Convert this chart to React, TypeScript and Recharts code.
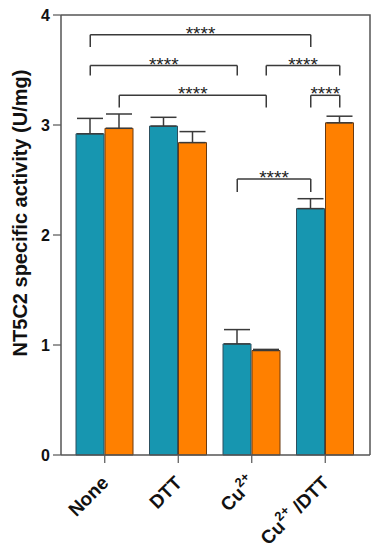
import React from 'react';
import {
  BarChart,
  Bar,
  XAxis,
  YAxis,
  ErrorBar,
  ReferenceLine,
} from 'recharts';

const categories = ['None', 'DTT', 'Cu2+', 'Cu2+/DTT'];
const blueValues = [2.92, 2.99, 1.01, 2.24];
const blueErrors = [0.14, 0.08, 0.13, 0.09];
const orangeValues = [2.97, 2.84, 0.95, 3.02];
const orangeErrors = [0.13, 0.1, 0.01, 0.06];
const yTicks = [0, 1, 2, 3, 4];

// significance brackets: bar index 0 = blue, 1 = orange
const brackets = [
  { from: 'None', fromBar: 0, to: 'Cu2+/DTT', toBar: 0, top: 3.82, drop: 3.71, label: '****' },
  { from: 'None', fromBar: 0, to: 'Cu2+', toBar: 0, top: 3.54, drop: 3.45, label: '****' },
  { from: 'None', fromBar: 1, to: 'Cu2+', toBar: 1, top: 3.27, drop: 3.16, label: '****' },
  { from: 'Cu2+', fromBar: 1, to: 'Cu2+/DTT', toBar: 1, top: 3.54, drop: 3.45, label: '****' },
  { from: 'Cu2+/DTT', fromBar: 0, to: 'Cu2+/DTT', toBar: 1, top: 3.27, drop: 3.16, label: '****' },
  { from: 'Cu2+', fromBar: 0, to: 'Cu2+/DTT', toBar: 0, top: 2.51, drop: 2.39, label: '****' },
];

const data = categories.map((name, i) => ({
  name,
  blue: blueValues[i],
  blueErr: [0, blueErrors[i]],
  orange: orangeValues[i],
  orangeErr: [0, orangeErrors[i]],
}));

const FONT = 'Arial, "Liberation Sans", sans-serif';
const CHART_W = 378;
const CHART_H = 550;
const MARGIN = { top: 15, right: 8, left: 0, bottom: 0 };
const BAR_SIZE = 28;
const BAR_GAP = 1;
const PAD = { left: 7, right: 8 };
const barShift = [-(BAR_SIZE + BAR_GAP) / 2, (BAR_SIZE + BAR_GAP) / 2];
const LINE = '#3a3a3a';
const AXIS = '#555';

const XTick = (props: any) => {
  const { x, y, payload } = props;
  const v = payload.value as string;
  let content: React.ReactNode = v;
  if (v === 'Cu2+') {
    content = (
      <>
        <tspan>Cu</tspan>
        <tspan dy={-9} fontSize={13}>2+</tspan>
      </>
    );
  } else if (v === 'Cu2+/DTT') {
    content = (
      <>
        <tspan>Cu</tspan>
        <tspan dy={-9} fontSize={13}>2+</tspan>
        <tspan dy={9}> /DTT</tspan>
      </>
    );
  }
  return (
    <g transform={`translate(${x + 5},${y + 19})`}>
      <text
        transform="rotate(-45)"
        textAnchor="end"
        fontSize={19}
        fontWeight="bold"
        fontFamily={FONT}
        fill="#111"
      >
        {content}
      </text>
    </g>
  );
};

// y-axis title, plus the top/right frame of the plot box
const YLabel = (props: any) => {
  const { viewBox } = props;
  const cx = viewBox.x + 20;
  const cy = viewBox.y + viewBox.height / 2 - 22;
  const left = viewBox.x + viewBox.width;
  const top = viewBox.y;
  const bottom = viewBox.y + viewBox.height;
  const right = CHART_W - MARGIN.right;
  return (
    <g>
      <path
        d={`M${left},${top}H${right}V${bottom}`}
        fill="none"
        stroke={AXIS}
        strokeWidth={1.5}
      />
      <text
        x={cx}
        y={cy}
        transform={`rotate(-90, ${cx}, ${cy})`}
        textAnchor="middle"
        dominantBaseline="central"
        fontSize={20}
        fontWeight="bold"
        fontFamily={FONT}
        fill="#111"
      >
        NT5C2 specific activity (U/mg)
      </text>
    </g>
  );
};

const hShape = (b: (typeof brackets)[number]) => (p: any) => {
  const x1 = p.x1 + barShift[b.fromBar];
  const x2 = p.x2 + barShift[b.toBar];
  return (
    <g>
      <line x1={x1} y1={p.y1} x2={x2} y2={p.y2} stroke={LINE} strokeWidth={1.5} />
      <text
        x={(x1 + x2) / 2}
        y={p.y1 + 5}
        textAnchor="middle"
        fontSize={19}
        fontFamily={FONT}
        fill="#222"
      >
        {b.label}
      </text>
    </g>
  );
};

const vShape = (shift: number) => (p: any) => (
  <line
    x1={p.x1 + shift}
    y1={p.y1}
    x2={p.x2 + shift}
    y2={p.y2}
    stroke={LINE}
    strokeWidth={1.5}
  />
);

export default function App() {
  return (
    <div style={{ position: 'absolute', left: 0, top: 0 }}>
      <BarChart
        width={CHART_W}
        height={CHART_H}
        data={data}
        margin={MARGIN}
        barSize={BAR_SIZE}
        barGap={BAR_GAP}
      >
        <XAxis
          dataKey="name"
          height={95}
          interval={0}
          padding={PAD}
          tick={<XTick />}
          tickSize={8}
          stroke={AXIS}
          axisLine={{ stroke: AXIS, strokeWidth: 1.5 }}
          tickLine={{ stroke: AXIS, strokeWidth: 1.2 }}
        />
        <YAxis
          width={61}
          domain={[0, 4]}
          ticks={yTicks}
          tickSize={8}
          tickMargin={3}
          tick={{ fontSize: 16, fontWeight: 'bold', fill: '#111', fontFamily: FONT }}
          axisLine={{ stroke: AXIS, strokeWidth: 1.5 }}
          tickLine={{ stroke: AXIS, strokeWidth: 1.2 }}
          label={<YLabel />}
        />
        <Bar dataKey="blue" fill="#1796b0" stroke="#2c4f5e" strokeWidth={1} isAnimationActive={false}>
          <ErrorBar dataKey="blueErr" width={13} stroke={LINE} strokeWidth={1.5} />
        </Bar>
        <Bar dataKey="orange" fill="#ff8000" stroke="#6a3a10" strokeWidth={1} isAnimationActive={false}>
          <ErrorBar dataKey="orangeErr" width={13} stroke={LINE} strokeWidth={1.5} />
        </Bar>
        {brackets.map((b, i) => (
          <ReferenceLine
            key={`h${i}`}
            segment={[
              { x: b.from, y: b.top },
              { x: b.to, y: b.top },
            ]}
            shape={hShape(b)}
          />
        ))}
        {brackets.map((b, i) => (
          <ReferenceLine
            key={`l${i}`}
            segment={[
              { x: b.from, y: b.top },
              { x: b.from, y: b.drop },
            ]}
            shape={vShape(barShift[b.fromBar])}
          />
        ))}
        {brackets.map((b, i) => (
          <ReferenceLine
            key={`r${i}`}
            segment={[
              { x: b.to, y: b.top },
              { x: b.to, y: b.drop },
            ]}
            shape={vShape(barShift[b.toBar])}
          />
        ))}
      </BarChart>
    </div>
  );
}
